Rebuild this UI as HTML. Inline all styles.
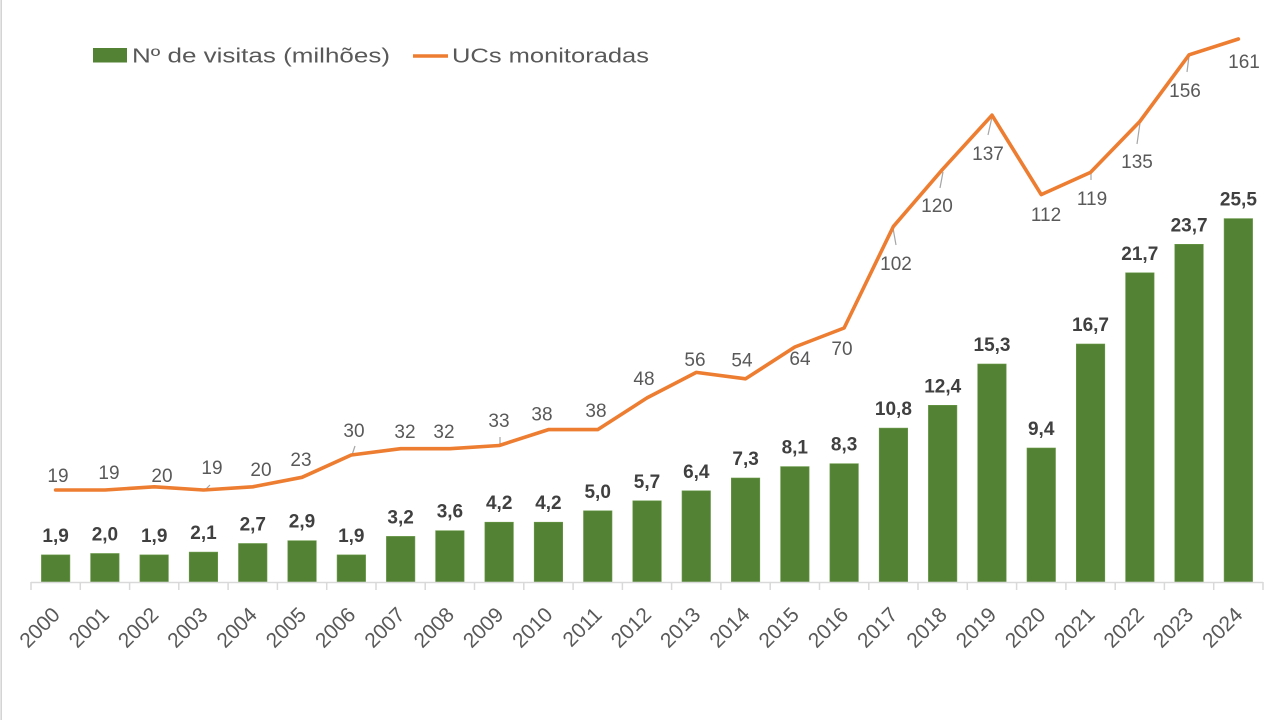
<!DOCTYPE html>
<html>
<head>
<meta charset="utf-8">
<style>
html,body{margin:0;padding:0;background:#fff;}
svg{display:block;}
text{font-family:"Liberation Sans",Arial,sans-serif;}
.bl{font-size:19px;font-weight:bold;fill:#404040;text-anchor:middle;}
.ll{font-size:19px;fill:#595959;text-anchor:middle;}
.xl{font-size:21px;fill:#595959;text-anchor:end;}
.ld{stroke:#a6a6a6;stroke-width:1.2;}
</style>
</head>
<body>
<svg width="1280" height="720" viewBox="0 0 1280 720" xmlns="http://www.w3.org/2000/svg">
<rect x="0" y="0" width="1280" height="720" fill="#fff"/>
<line x1="1.2" y1="0" x2="1.2" y2="720" stroke="#d4d4d4" stroke-width="1.6"/>

<!-- legend -->
<rect x="93" y="48" width="34" height="14.5" fill="#548235"/>
<text x="132" y="62.5" font-size="20.5" fill="#595959" textLength="258" lengthAdjust="spacingAndGlyphs">Nº de visitas (milhões)</text>
<line x1="413" y1="56" x2="448" y2="56" stroke="#ED7D31" stroke-width="3.5"/>
<text x="452" y="62.5" font-size="20.5" fill="#595959" textLength="197" lengthAdjust="spacingAndGlyphs">UCs monitoradas</text>

<!-- bars -->
<g fill="#548235" stroke="#6a9a48" stroke-width="0.6">
<rect x="41.4" y="554.9" width="28.5" height="27.1"/>
<rect x="90.6" y="553.5" width="28.5" height="28.5"/>
<rect x="139.9" y="554.9" width="28.5" height="27.1"/>
<rect x="189.2" y="552.1" width="28.5" height="29.9"/>
<rect x="238.5" y="543.5" width="28.5" height="38.5"/>
<rect x="287.8" y="540.7" width="28.5" height="41.3"/>
<rect x="337.1" y="554.9" width="28.5" height="27.1"/>
<rect x="386.4" y="536.4" width="28.5" height="45.6"/>
<rect x="435.6" y="530.7" width="28.5" height="51.3"/>
<rect x="484.9" y="522.2" width="28.5" height="59.8"/>
<rect x="534.2" y="522.2" width="28.5" height="59.8"/>
<rect x="583.5" y="510.8" width="28.5" height="71.2"/>
<rect x="632.8" y="500.8" width="28.5" height="81.2"/>
<rect x="682.0" y="490.8" width="28.5" height="91.2"/>
<rect x="731.3" y="478.0" width="28.5" height="104.0"/>
<rect x="780.6" y="466.6" width="28.5" height="115.4"/>
<rect x="829.9" y="463.7" width="28.5" height="118.3"/>
<rect x="879.2" y="428.1" width="28.5" height="153.9"/>
<rect x="928.4" y="405.3" width="28.5" height="176.7"/>
<rect x="977.7" y="364.0" width="28.5" height="218.0"/>
<rect x="1027.0" y="448.0" width="28.5" height="134.0"/>
<rect x="1076.3" y="344.0" width="28.5" height="238.0"/>
<rect x="1125.6" y="272.8" width="28.5" height="309.2"/>
<rect x="1174.8" y="244.3" width="28.5" height="337.7"/>
<rect x="1224.1" y="218.6" width="28.5" height="363.4"/>
</g>

<!-- axis -->
<g stroke="#d9d9d9" stroke-width="1.5">
<line x1="31" y1="582.5" x2="1263" y2="582.5"/>
<line x1="31" y1="582" x2="31" y2="590"/>
<line x1="80.3" y1="582" x2="80.3" y2="590"/>
<line x1="129.6" y1="582" x2="129.6" y2="590"/>
<line x1="178.8" y1="582" x2="178.8" y2="590"/>
<line x1="228.1" y1="582" x2="228.1" y2="590"/>
<line x1="277.4" y1="582" x2="277.4" y2="590"/>
<line x1="326.7" y1="582" x2="326.7" y2="590"/>
<line x1="376.0" y1="582" x2="376.0" y2="590"/>
<line x1="425.2" y1="582" x2="425.2" y2="590"/>
<line x1="474.5" y1="582" x2="474.5" y2="590"/>
<line x1="523.8" y1="582" x2="523.8" y2="590"/>
<line x1="573.1" y1="582" x2="573.1" y2="590"/>
<line x1="622.4" y1="582" x2="622.4" y2="590"/>
<line x1="671.6" y1="582" x2="671.6" y2="590"/>
<line x1="720.9" y1="582" x2="720.9" y2="590"/>
<line x1="770.2" y1="582" x2="770.2" y2="590"/>
<line x1="819.5" y1="582" x2="819.5" y2="590"/>
<line x1="868.8" y1="582" x2="868.8" y2="590"/>
<line x1="918.0" y1="582" x2="918.0" y2="590"/>
<line x1="967.3" y1="582" x2="967.3" y2="590"/>
<line x1="1016.6" y1="582" x2="1016.6" y2="590"/>
<line x1="1065.9" y1="582" x2="1065.9" y2="590"/>
<line x1="1115.2" y1="582" x2="1115.2" y2="590"/>
<line x1="1164.4" y1="582" x2="1164.4" y2="590"/>
<line x1="1213.7" y1="582" x2="1213.7" y2="590"/>
<line x1="1263" y1="582" x2="1263" y2="590"/>
</g>

<!-- x labels -->
<g class="xl">
<text transform="translate(61.1,616) rotate(-45)">2000</text>
<text transform="translate(110.4,616) rotate(-45)">2001</text>
<text transform="translate(159.7,616) rotate(-45)">2002</text>
<text transform="translate(209.0,616) rotate(-45)">2003</text>
<text transform="translate(258.3,616) rotate(-45)">2004</text>
<text transform="translate(307.5,616) rotate(-45)">2005</text>
<text transform="translate(356.8,616) rotate(-45)">2006</text>
<text transform="translate(406.1,616) rotate(-45)">2007</text>
<text transform="translate(455.4,616) rotate(-45)">2008</text>
<text transform="translate(504.7,616) rotate(-45)">2009</text>
<text transform="translate(553.9,616) rotate(-45)">2010</text>
<text transform="translate(603.2,616) rotate(-45)">2011</text>
<text transform="translate(652.5,616) rotate(-45)">2012</text>
<text transform="translate(701.8,616) rotate(-45)">2013</text>
<text transform="translate(751.1,616) rotate(-45)">2014</text>
<text transform="translate(800.3,616) rotate(-45)">2015</text>
<text transform="translate(849.6,616) rotate(-45)">2016</text>
<text transform="translate(898.9,616) rotate(-45)">2017</text>
<text transform="translate(948.2,616) rotate(-45)">2018</text>
<text transform="translate(997.5,616) rotate(-45)">2019</text>
<text transform="translate(1046.7,616) rotate(-45)">2020</text>
<text transform="translate(1096.0,616) rotate(-45)">2021</text>
<text transform="translate(1145.3,616) rotate(-45)">2022</text>
<text transform="translate(1194.6,616) rotate(-45)">2023</text>
<text transform="translate(1243.9,616) rotate(-45)">2024</text>
</g>

<!-- bar labels -->
<g class="bl">
<text x="55.6" y="541.9">1,9</text>
<text x="104.9" y="540.5">2,0</text>
<text x="154.2" y="541.9">1,9</text>
<text x="203.5" y="539.1">2,1</text>
<text x="252.8" y="530.5">2,7</text>
<text x="302.0" y="527.7">2,9</text>
<text x="351.3" y="541.9">1,9</text>
<text x="400.6" y="523.4">3,2</text>
<text x="449.9" y="517.7">3,6</text>
<text x="499.2" y="509.2">4,2</text>
<text x="548.4" y="509.2">4,2</text>
<text x="597.7" y="497.8">5,0</text>
<text x="647.0" y="487.8">5,7</text>
<text x="696.3" y="477.8">6,4</text>
<text x="745.6" y="465.0">7,3</text>
<text x="794.8" y="453.6">8,1</text>
<text x="844.1" y="450.7">8,3</text>
<text x="893.4" y="415.1">10,8</text>
<text x="942.7" y="392.3">12,4</text>
<text x="992.0" y="351.0">15,3</text>
<text x="1041.2" y="435.0">9,4</text>
<text x="1090.5" y="331.0">16,7</text>
<text x="1139.8" y="259.8">21,7</text>
<text x="1189.1" y="231.3">23,7</text>
<text x="1238.4" y="205.6">25,5</text>
</g>

<!-- leader lines -->
<g class="ld">
<line x1="204" y1="491" x2="210" y2="485"/>
<line x1="352" y1="455" x2="355" y2="446"/>
<line x1="500" y1="445" x2="500" y2="437"/>
<line x1="893" y1="228" x2="896" y2="245"/>
<line x1="943" y1="172" x2="940" y2="188"/>
<line x1="992" y1="117" x2="988" y2="135"/>
<line x1="1091" y1="172" x2="1091" y2="180"/>
<line x1="1140" y1="123" x2="1137" y2="144"/>
<line x1="1189" y1="56" x2="1187" y2="72"/>
</g>

<!-- line series -->
<polyline fill="none" stroke="#ED7D31" stroke-width="3.6" stroke-linejoin="round" stroke-linecap="round"
points="55.6,490.0 104.9,490.0 154.2,486.8 203.5,490.0 252.8,486.8 302.0,477.3 351.3,455.0 400.6,448.7 449.9,448.7 499.2,445.5 548.4,429.6 597.7,429.6 647.0,397.9 696.3,372.4 745.6,378.8 794.8,347.0 844.1,328.0 893.4,226.4 942.7,169.2 992.0,115.2 1041.2,194.6 1090.5,172.4 1139.8,121.5 1189.1,54.8 1238.4,39.0"/>

<!-- line labels -->
<g class="ll">
<text x="58" y="482">19</text>
<text x="109" y="479">19</text>
<text x="162" y="482">20</text>
<text x="212" y="474">19</text>
<text x="261" y="476">20</text>
<text x="301" y="466">23</text>
<text x="354" y="437">30</text>
<text x="405" y="438">32</text>
<text x="444" y="438">32</text>
<text x="499" y="427">33</text>
<text x="542" y="420.5">38</text>
<text x="596" y="417">38</text>
<text x="644" y="385">48</text>
<text x="695" y="366">56</text>
<text x="742" y="366.5">54</text>
<text x="800" y="365">64</text>
<text x="842" y="355">70</text>
<text x="896" y="270">102</text>
<text x="937" y="212">120</text>
<text x="988" y="160">137</text>
<text x="1046" y="221">112</text>
<text x="1092" y="205">119</text>
<text x="1137" y="168">135</text>
<text x="1185" y="97">156</text>
<text x="1244" y="68">161</text>
</g>
</svg>
</body>
</html>
